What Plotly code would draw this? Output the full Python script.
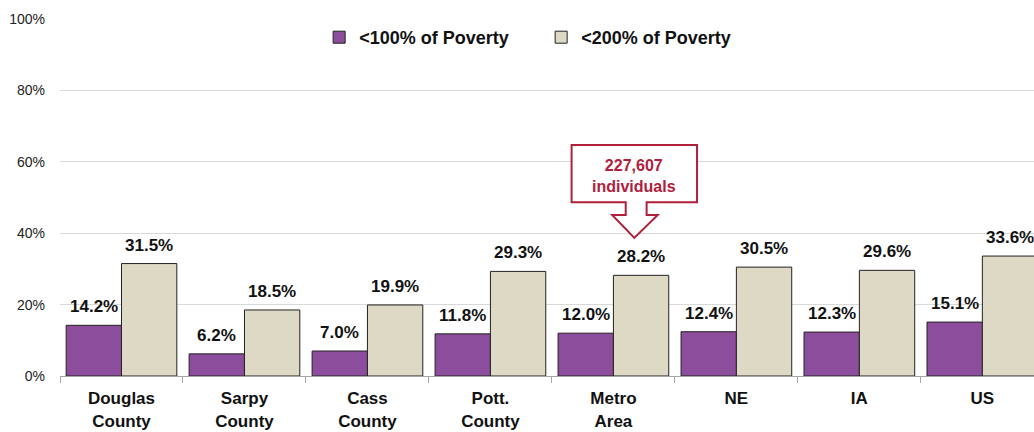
import plotly.graph_objects as go

categories = ["Douglas<br>County", "Sarpy<br>County", "Cass<br>County", "Pott.<br>County",
              "Metro<br>Area", "NE", "IA", "US"]
below_100 = [14.2, 6.2, 7.0, 11.8, 12.0, 12.4, 12.3, 15.1]
below_200 = [31.5, 18.5, 19.9, 29.3, 28.2, 30.5, 29.6, 33.6]
series_names = ["<100% of Poverty", "<200% of Poverty"]
callout_text = "227,607<br>individuals"

FONT = "Liberation Sans Narrow, Arial Narrow, Liberation Sans, Arial, sans-serif"
RED = "#B0203A"
LABEL_FONT = dict(family=FONT, size=17, color="#111111", weight="bold")

xs = list(range(len(categories)))
fig = go.Figure()
fig.add_trace(go.Bar(x=xs, y=below_100, name=series_names[0],
                     marker=dict(color="#8C4E9C", line=dict(color="#222222", width=1))))
fig.add_trace(go.Bar(x=xs, y=below_200, name=series_names[1],
                     marker=dict(color="#DDD9C4", line=dict(color="#222222", width=1))))

# value labels above bars
for i in xs:
    fig.add_annotation(x=i - 0.225, y=below_100[i], xref="x", yref="y",
                       text=f"{below_100[i]:.1f}%", showarrow=False,
                       yanchor="bottom", yshift=7, font=LABEL_FONT)
    fig.add_annotation(x=i + 0.225, y=below_200[i], xref="x", yref="y",
                       text=f"{below_200[i]:.1f}%", showarrow=False,
                       yanchor="bottom", yshift=7, font=LABEL_FONT)

# Callout arrow box over Metro Area
path = ("M 3.66 64.7 L 4.68 64.7 L 4.68 48.7 L 4.27 48.7 L 4.27 45.1 L 4.36 45.1 "
        "L 4.17 38.7 L 3.99 45.1 L 4.10 45.1 L 4.10 48.7 L 3.66 48.7 Z")
fig.add_shape(type="path", path=path, xref="x", yref="y",
              line=dict(color=RED, width=2), fillcolor="white", layer="above")
fig.add_annotation(x=4.17, y=56.0, xref="x", yref="y", text=callout_text, showarrow=False,
                   font=dict(family=FONT, size=16, color=RED, weight="bold"))

fig.update_layout(
    width=1034, height=432,
    margin=dict(l=60, r=0, t=19, b=56),
    paper_bgcolor="white", plot_bgcolor="white",
    barmode="group", bargap=0.1, bargroupgap=0,
    showlegend=True,
    legend=dict(orientation="h", x=0.494, xanchor="center", y=1.0, yanchor="top",
                font=dict(family=FONT, size=18, color="#111111", weight="bold"),
                bgcolor="rgba(0,0,0,0)", itemwidth=30, entrywidth=177,
                traceorder="normal"),
    xaxis=dict(tickmode="array", tickvals=xs, ticktext=categories,
               range=[-0.5, 7.42], showgrid=False, showline=True, linecolor="#A6A6A6",
               ticks="", ticklabelstandoff=7, automargin=False,
               minor=dict(tick0=-0.5, dtick=1, ticks="outside", ticklen=6,
                          tickcolor="#A6A6A6", showgrid=False),
               tickfont=dict(family=FONT, size=17, color="#111111", weight="bold")),
    yaxis=dict(range=[0, 100], tickvals=[0, 20, 40, 60, 80, 100],
               ticktext=["0%", "20%", "40%", "60%", "80%", "100%"],
               showgrid=True, gridcolor="#D9D9D9", gridwidth=1, zeroline=False,
               ticks="", ticklabelstandoff=14, automargin=False,
               tickfont=dict(family="Liberation Sans, Arial, sans-serif", size=14, color="#222222")),
    font=dict(family=FONT),
)

fig.write_html("out.html", config={"displayModeBar": False},
               post_script="document.body.style.margin='0';document.body.style.overflow='hidden';")
